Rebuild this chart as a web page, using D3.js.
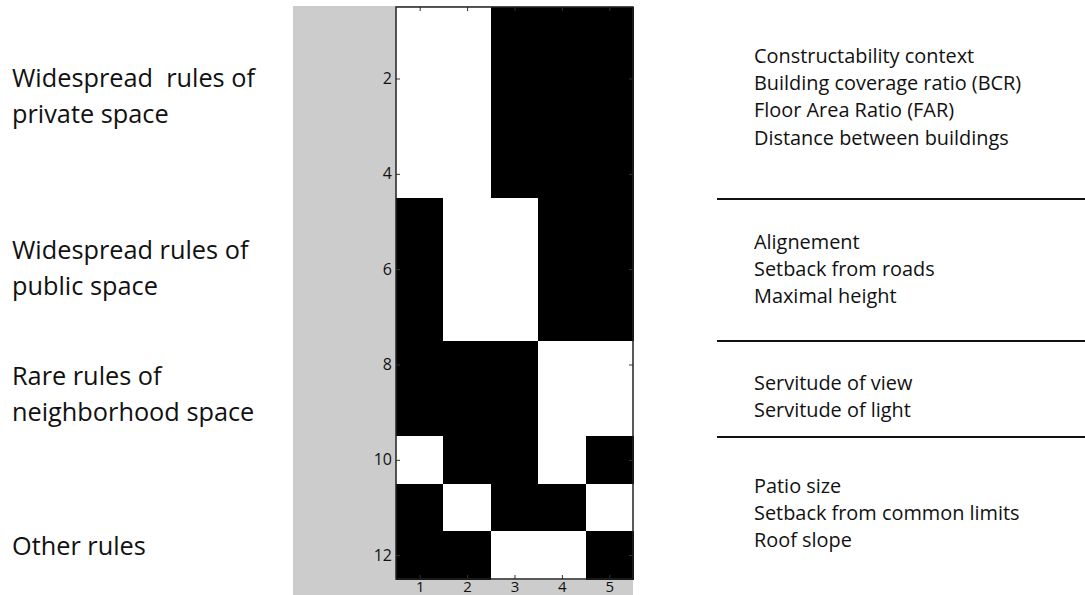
<!DOCTYPE html>
<html>
<head>
<meta charset="utf-8">
<script src="https://cdn.jsdelivr.net/npm/d3@7"></script>
<style>
  body { margin: 0; background: #fff; }
  svg { display: block; font-family: "Open Sans", sans-serif; }
</style>
</head>
<body>
<svg></svg>
<script>
// columns and rows of the binary matrix
const columns = [1, 2, 3, 4, 5];
const rows = [1, 2, 3, 4, 5, 6, 7, 8, 9, 10, 11, 12];
// 1 = white cell, 0 = black cell
const cellValues = [
  [1, 1, 0, 0, 0],
  [1, 1, 0, 0, 0],
  [1, 1, 0, 0, 0],
  [1, 1, 0, 0, 0],
  [0, 1, 1, 0, 0],
  [0, 1, 1, 0, 0],
  [0, 1, 1, 0, 0],
  [0, 0, 0, 1, 1],
  [0, 0, 0, 1, 1],
  [1, 0, 0, 1, 0],
  [0, 1, 0, 0, 1],
  [0, 0, 1, 1, 0]
];
const yTicks = [2, 4, 6, 8, 10, 12];

const groupLabels = [
  ["Widespread\u00a0 rules of", "private space"],
  ["Widespread rules of", "public space"],
  ["Rare rules of", "neighborhood space"],
  ["Other rules"]
];
const ruleLists = [
  ["Constructability context", "Building coverage ratio (BCR)", "Floor Area Ratio (FAR)", "Distance between buildings"],
  ["Alignement", "Setback from roads", "Maximal height"],
  ["Servitude of view", "Servitude of light"],
  ["Patio size", "Setback from common limits", "Roof slope"]
];

function Start() {
  const width = 1085;
  const height = 595;

  const svg = d3.select("svg")
    .attr("width", width)
    .attr("height", height)
    .attr("viewBox", [0, 0, width, height]);

  // grey figure background behind the matrix
  svg.append("rect")
    .attr("x", 293).attr("y", 6)
    .attr("width", 340).attr("height", height - 6)
    .attr("fill", "#cccccc");

  const x = d3.scaleBand().domain(columns).range([396, 633]);
  const y = d3.scaleBand().domain(rows).range([7, 579]);

  const cells = [];
  rows.forEach((r, i) => columns.forEach((c, j) => cells.push({ r, c, v: cellValues[i][j] })));

  svg.append("g")
    .attr("shape-rendering", "crispEdges")
    .selectAll("rect")
    .data(cells)
    .join("rect")
    .attr("x", d => x(d.c))
    .attr("y", d => y(d.r))
    .attr("width", x.bandwidth() + 0.5)
    .attr("height", y.bandwidth() + 0.5)
    .attr("fill", d => d.v ? "#ffffff" : "#000000");

  // axes: MATLAB style inward ticks
  const yPos = d3.scalePoint().domain(rows).range([y(1) + y.bandwidth() / 2, y(12) + y.bandwidth() / 2]);
  const xPos = d3.scalePoint().domain(columns).range([x(1) + x.bandwidth() / 2, x(5) + x.bandwidth() / 2]);

  const styleAxis = g => {
    g.select(".domain").remove();
    g.selectAll(".tick line").attr("stroke", "#333");
    g.selectAll(".tick text")
      .attr("fill", "#111")
      .attr("font-size", 16)
      .attr("font-family", "'Open Sans', sans-serif");
  };

  svg.append("g")
    .attr("transform", `translate(${x.range()[0]},0)`)
    .call(d3.axisLeft(yPos).tickValues(yTicks).tickSize(-4).tickPadding(4))
    .call(styleAxis);
  svg.append("g")
    .attr("transform", `translate(${x.range()[1]},0)`)
    .call(d3.axisRight(yPos).tickValues(yTicks).tickSize(-4).tickFormat(""))
    .call(styleAxis);
  svg.append("g")
    .attr("transform", `translate(0,${y.range()[1]})`)
    .call(d3.axisBottom(xPos).tickSize(-4).tickPadding(2))
    .call(styleAxis)
    .call(g => g.selectAll(".tick text").attr("font-size", 15));
  svg.append("g")
    .attr("transform", `translate(0,${y.range()[0]})`)
    .call(d3.axisTop(xPos).tickSize(-4).tickFormat(""))
    .call(styleAxis);

  // axes box
  svg.append("rect")
    .attr("x", x.range()[0]).attr("y", y.range()[0])
    .attr("width", x.range()[1] - x.range()[0])
    .attr("height", y.range()[1] - y.range()[0])
    .attr("fill", "none")
    .attr("stroke", "#222")
    .attr("stroke-width", 1.5);

  // left group labels
  const leftBaselines = [87, 259, 385, 555];
  groupLabels.forEach((lines, i) => {
    svg.append("text")
      .attr("x", 12)
      .attr("y", leftBaselines[i])
      .attr("font-size", 25.3)
      .attr("fill", "#111")
      .selectAll("tspan")
      .data(lines)
      .join("tspan")
      .attr("x", 12)
      .attr("dy", (d, k) => k === 0 ? 0 : 35.5)
      .text(d => d);
  });

  // right rule lists
  const rightBaselines = [63, 249, 390, 493];
  ruleLists.forEach((lines, i) => {
    svg.append("text")
      .attr("x", 754)
      .attr("y", rightBaselines[i])
      .attr("font-size", 19.9)
      .attr("fill", "#111")
      .selectAll("tspan")
      .data(lines)
      .join("tspan")
      .attr("x", 754)
      .attr("dy", (d, k) => k === 0 ? 0 : 27.2)
      .text(d => d);
  });

  // separators
  svg.selectAll("line.sep")
    .data([199, 341, 437])
    .join("line")
    .attr("class", "sep")
    .attr("x1", 717).attr("x2", width)
    .attr("y1", d => d).attr("y2", d => d)
    .attr("stroke", "#111")
    .attr("stroke-width", 2);

  return svg.node();
}
Start();
</script>
</body>
</html>
